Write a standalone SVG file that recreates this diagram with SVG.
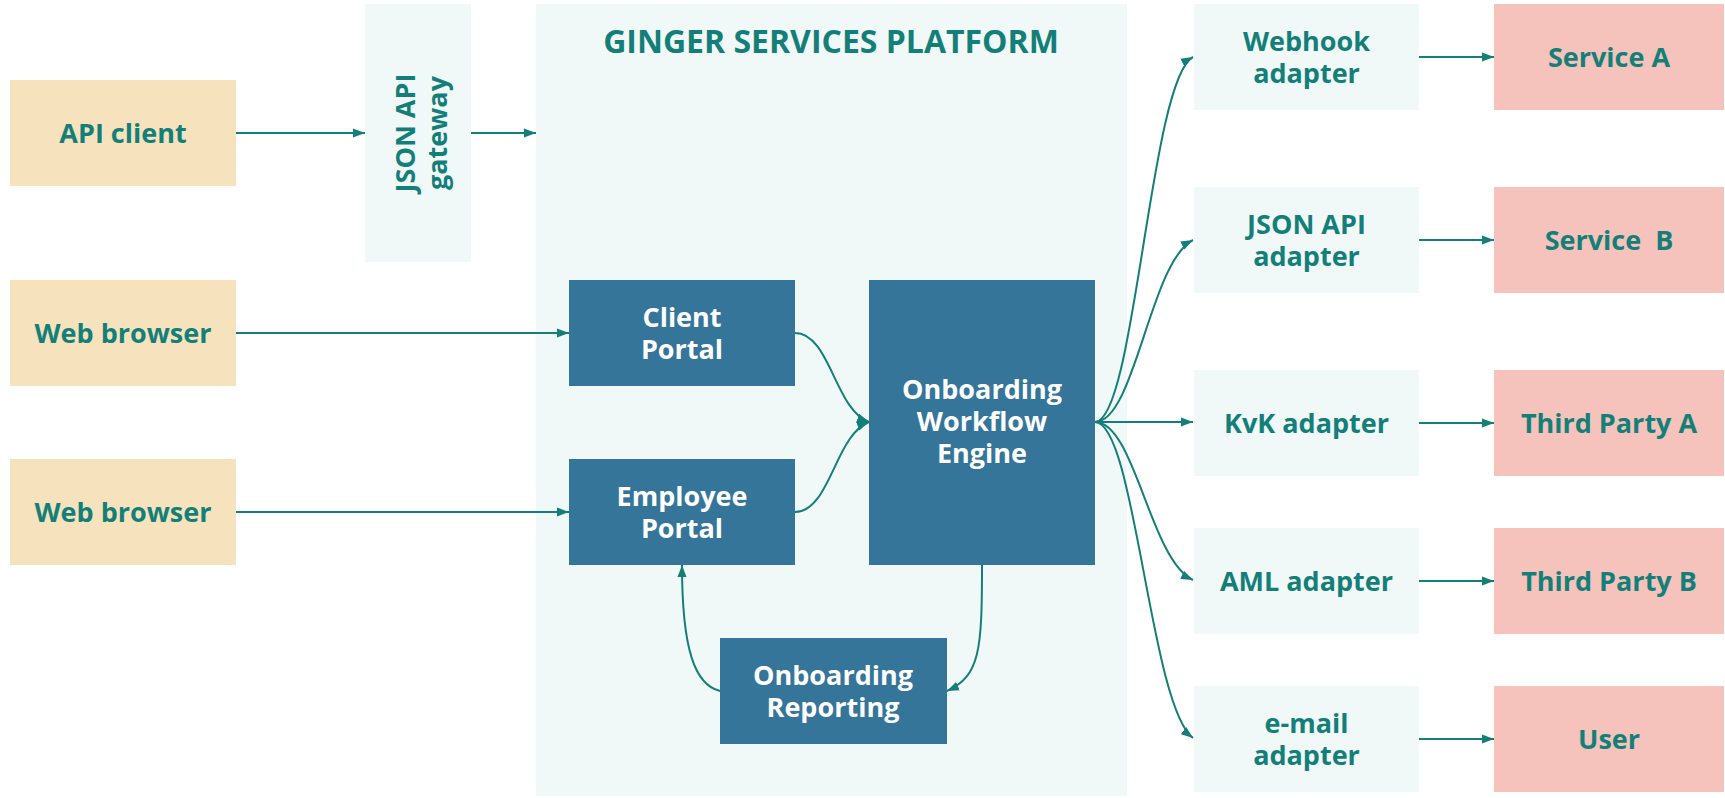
<svg xmlns="http://www.w3.org/2000/svg" width="1725" height="798" viewBox="0 0 1725 798">
<style>
.lbl{font-family:"Open Sans","Noto Sans","Liberation Sans",sans-serif;font-weight:700;font-size:27px;fill:#147f78;text-anchor:middle}
.w{fill:#ffffff}
.title{font-family:"Open Sans","Noto Sans","Liberation Sans",sans-serif;font-weight:700;font-size:32px;fill:#147f78;text-anchor:middle}
.tan{fill:#f6e3bd}
.pink{fill:#f5c3bb}
.light{fill:#f0f9f8}
.dark{fill:#347599}
.c{fill:none;stroke:#147f78;stroke-width:2}
</style>
<defs>
<marker id="ah" viewBox="0 0 12 10" refX="12" refY="5" markerWidth="12" markerHeight="10" markerUnits="userSpaceOnUse" orient="auto">
<path d="M0,0.5 L12,5 L0,9.5 Z" fill="#147f78"/>
</marker>
</defs>
<rect width="1725" height="798" fill="#ffffff"/>

<g id="platform">
<rect class="light" x="536" y="4" width="591" height="792"/>
<text class="title" x="831" y="53">GINGER SERVICES PLATFORM</text>
</g>

<g id="api-client">
<rect class="tan" x="10" y="80" width="226" height="106"/>
<text class="lbl" x="123" y="143">API client</text>
</g>
<g id="web-browser-1">
<rect class="tan" x="10" y="280" width="226" height="106"/>
<text class="lbl" x="123" y="343">Web browser</text>
</g>
<g id="web-browser-2">
<rect class="tan" x="10" y="459" width="226" height="106"/>
<text class="lbl" x="123" y="522">Web browser</text>
</g>

<g id="gateway">
<rect class="light" x="365" y="4" width="106" height="258"/>
<g transform="translate(418,133) rotate(-90)">
<text class="lbl" x="0" y="-3.5">JSON API</text>
<text class="lbl" x="0" y="28.5">gateway</text>
</g>
</g>

<g id="client-portal">
<rect class="dark" x="569" y="280" width="226" height="106"/>
<text class="lbl w" x="682" y="327">Client</text>
<text class="lbl w" x="682" y="359">Portal</text>
</g>
<g id="employee-portal">
<rect class="dark" x="569" y="459" width="226" height="106"/>
<text class="lbl w" x="682" y="506">Employee</text>
<text class="lbl w" x="682" y="538">Portal</text>
</g>
<g id="engine">
<rect class="dark" x="869" y="280" width="226" height="285"/>
<text class="lbl w" x="982" y="399">Onboarding</text>
<text class="lbl w" x="982" y="431">Workflow</text>
<text class="lbl w" x="982" y="463">Engine</text>
</g>
<g id="reporting">
<rect class="dark" x="720" y="638" width="227" height="106"/>
<text class="lbl w" x="833" y="684.5">Onboarding</text>
<text class="lbl w" x="833" y="716.5">Reporting</text>
</g>

<g id="webhook-adapter">
<rect class="light" x="1194" y="4" width="225" height="106"/>
<text class="lbl" x="1306.5" y="50.5">Webhook</text>
<text class="lbl" x="1306.5" y="82.5">adapter</text>
</g>
<g id="json-api-adapter">
<rect class="light" x="1194" y="187" width="225" height="106"/>
<text class="lbl" x="1306.5" y="233.5">JSON API</text>
<text class="lbl" x="1306.5" y="265.5">adapter</text>
</g>
<g id="kvk-adapter">
<rect class="light" x="1194" y="370" width="225" height="106"/>
<text class="lbl" x="1306.5" y="432.5">KvK adapter</text>
</g>
<g id="aml-adapter">
<rect class="light" x="1194" y="528" width="225" height="106"/>
<text class="lbl" x="1306.5" y="590.5">AML adapter</text>
</g>
<g id="email-adapter">
<rect class="light" x="1194" y="686" width="225" height="106"/>
<text class="lbl" x="1306.5" y="732.5">e-mail</text>
<text class="lbl" x="1306.5" y="764.5">adapter</text>
</g>

<g id="service-a">
<rect class="pink" x="1494" y="4" width="230" height="106"/>
<text class="lbl" x="1609" y="66.5">Service A</text>
</g>
<g id="service-b">
<rect class="pink" x="1494" y="187" width="230" height="106"/>
<text class="lbl" x="1609" y="249.5" xml:space="preserve" style="white-space:pre">Service  B</text>
</g>
<g id="third-party-a">
<rect class="pink" x="1494" y="370" width="230" height="106"/>
<text class="lbl" x="1609" y="432.5">Third Party A</text>
</g>
<g id="third-party-b">
<rect class="pink" x="1494" y="528" width="230" height="106"/>
<text class="lbl" x="1609" y="590.5">Third Party B</text>
</g>
<g id="user">
<rect class="pink" x="1494" y="686" width="230" height="106"/>
<text class="lbl" x="1609" y="748.5">User</text>
</g>

<g id="connectors">
<path class="c" marker-end="url(#ah)" d="M236,133 L365,133"/>
<path class="c" marker-end="url(#ah)" d="M471,133 L536,133"/>
<path class="c" marker-end="url(#ah)" d="M236,333 L569,333"/>
<path class="c" marker-end="url(#ah)" d="M236,512 L569,512"/>
<path class="c" marker-end="url(#ah)" d="M795,333 C830,333 835,410 869,422"/>
<path class="c" marker-end="url(#ah)" d="M795,512 C830,512 835,435 869,422"/>
<path class="c" marker-end="url(#ah)" d="M982,565 C982,650 980,676 947,691"/>
<path class="c" marker-end="url(#ah)" d="M720,691 C695,685 682,650 682,565"/>
<path class="c" marker-end="url(#ah)" d="M1095,422 C1135,422 1150,80 1193,57"/>
<path class="c" marker-end="url(#ah)" d="M1095,422 C1135,422 1150,262 1193,240"/>
<path class="c" marker-end="url(#ah)" d="M1095,422 L1193,422"/>
<path class="c" marker-end="url(#ah)" d="M1095,422 C1135,422 1150,560 1193,580"/>
<path class="c" marker-end="url(#ah)" d="M1095,422 C1135,422 1150,705 1193,738"/>
<path class="c" marker-end="url(#ah)" d="M1419,57 L1494,57"/>
<path class="c" marker-end="url(#ah)" d="M1419,240 L1494,240"/>
<path class="c" marker-end="url(#ah)" d="M1419,423 L1494,423"/>
<path class="c" marker-end="url(#ah)" d="M1419,581 L1494,581"/>
<path class="c" marker-end="url(#ah)" d="M1419,739 L1494,739"/>
</g>
</svg>
